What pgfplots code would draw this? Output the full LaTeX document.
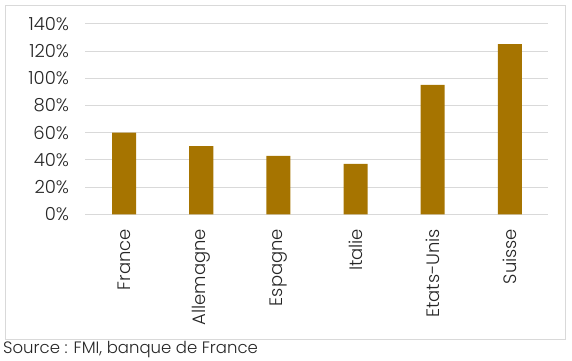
\documentclass[border=0pt]{standalone}
\usepackage{pgfplots}
\pgfplotsset{compat=1.18}
\usepackage{fontspec}
\setmainfont{Poppins}[UprightFont=* Light]
\definecolor{barc}{HTML}{A67400}
\definecolor{gridc}{HTML}{D9D9D9}
\begin{document}
\begin{tikzpicture}[x=1pt,y=1pt]
\path[use as bounding box] (0,0) rectangle (572,360);
\draw[gridc, line width=0.75pt] (5,21) rectangle (565,355);
\node[anchor=west, inner sep=0pt, font=\fontsize{16.5}{19}\selectfont, text=black!85] at (3,10.5) {Source : FMI, banque de France};
\begin{axis}[
  at={(85.5pt,145.7pt)}, anchor=south west,
  scale only axis, width=463pt, height=190.6pt,
  ymin=0, ymax=140, xmin=-0.5, xmax=5.5,
  ytick={0,20,40,60,80,100,120,140},
  yticklabels={0\%,20\%,40\%,60\%,80\%,100\%,120\%,140\%},
  xtick={0,1,2,3,4,5},
  xticklabels={France,Allemagne,Espagne,Italie,Etats-Unis,Suisse},
  xticklabel style={rotate=90, anchor=east, xshift=-11pt},
  yticklabel style={xshift=-13pt},
  tick label style={font=\fontsize{18}{21}\selectfont, text=black!85},
  major tick length=0pt,
  ymajorgrids, grid style={gridc, line width=0.75pt},
  axis lines*=left,
  x axis line style={gridc, line width=0.75pt, -},
  y axis line style={draw=none},
  ybar, bar width=24pt,
]
\addplot[fill=barc, draw=none] coordinates {(0,60) (1,50) (2,43) (3,37) (4,95) (5,125)};
\end{axis}
\end{tikzpicture}
\end{document}
